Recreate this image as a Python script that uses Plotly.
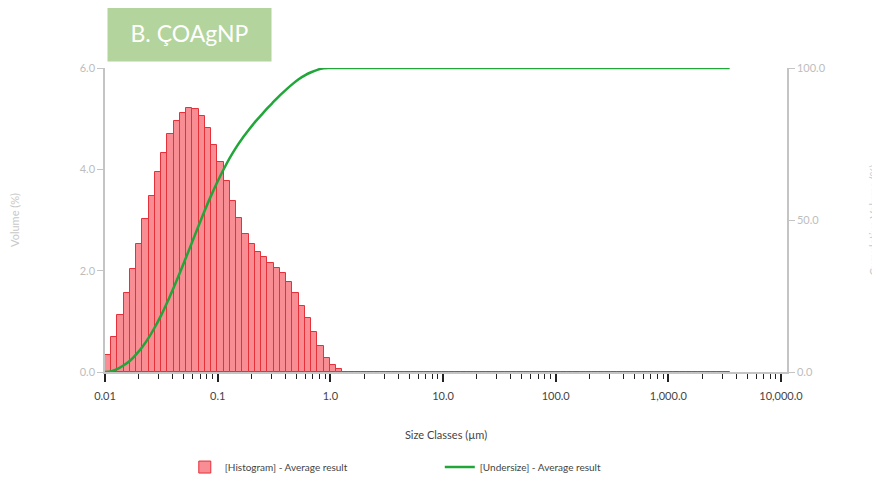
import numpy as np
import plotly.graph_objects as go

# Mastersizer size classes: 100 classes between 0.01 and 3500 um
edges = np.geomspace(0.01, 3500, 101)

# Volume (%) per size class
volume = [0.33, 0.70, 1.12, 1.56, 2.04, 2.53, 3.01, 3.48, 3.95, 4.33,
          4.70, 4.95, 5.12, 5.21, 5.19, 5.05, 4.82, 4.49, 4.15, 3.77,
          3.37, 3.03, 2.73, 2.52, 2.36, 2.26, 2.16, 2.06, 1.95, 1.77,
          1.55, 1.30, 1.06, 0.78, 0.52, 0.28, 0.14, 0.06] + [0.0] * 62

# Cumulative undersize (%) at the class edges
undersize = [0.0, 0.3, 1.0, 2.2, 3.7, 5.8, 8.3, 11.3, 14.8, 18.7,
             23.1, 27.8, 32.7, 37.8, 43.0, 48.2, 53.3, 58.1, 62.6, 66.7,
             70.5, 73.9, 76.9, 79.6, 82.2, 84.5, 86.8, 88.9, 91.0, 92.9,
             94.7, 96.3, 97.6, 98.6, 99.4, 99.9, 100.0]
undersize_x = list(edges[:len(undersize)]) + [edges[-1]]
undersize = undersize + [100.0]

x_ticks = [0.01, 0.1, 1, 10, 100, 1000, 10000]
x_labels = ["0.01", "0.1", "1.0", "10.0", "100.0", "1,000.0", "10,000.0"]
minor_ticks = [k * 10.0 ** p for p in range(-2, 4) for k in range(2, 10)]

FONT = "Lato"
GREY = "#c4c4c4"

fig = go.Figure()
fig.add_trace(go.Bar(
    x=edges[:-1], y=volume, width=np.diff(edges), offset=0,
    name="[Histogram] - Average result",
    marker=dict(color="rgba(246,112,120,0.8)", line=dict(color="#e6303a", width=1)),
))
fig.add_trace(go.Scatter(
    x=undersize_x, y=undersize, yaxis="y2", mode="lines",
    name="[Undersize] - Average result",
    line=dict(color="#21a63a", width=2.5, shape="spline", smoothing=0.8),
))

# the page body adds an 8px offset, margins compensate for it
fig.update_layout(
    width=880, height=486,
    margin=dict(l=97, r=101, t=60, b=115),
    paper_bgcolor="white", plot_bgcolor="white",
    font=dict(family=FONT, size=11, color="#333"),
    bargap=0,
    xaxis=dict(
        type="log", range=[-2.0, 4.053], automargin=False,
        tickvals=x_ticks, ticktext=x_labels,
        ticks="outside", ticklen=8, tickwidth=2, tickcolor="#222",
        minor=dict(tickvals=minor_ticks, ticks="outside", ticklen=5, tickwidth=1, tickcolor="#222"),
        showline=True, linecolor=GREY, linewidth=1.5,
        showgrid=False, zeroline=False, ticklabelstandoff=5,
        tickfont=dict(size=11, color="#444"),
        title=dict(text="Size Classes (µm)", font=dict(size=11, color="#444"), standoff=30),
    ),
    yaxis=dict(
        range=[0, 6.0], tickvals=[0, 2, 4, 6], tickformat=".1f", automargin=False,
        ticks="outside", ticklen=6, tickcolor=GREY,
        showline=True, linecolor=GREY, linewidth=1.5,
        showgrid=False, zeroline=False,
        tickfont=dict(size=11, color="#bdbdbd"),
        title=dict(text="Volume (%)", font=dict(size=11, color="#c8c8c8"), standoff=64),
    ),
    yaxis2=dict(
        overlaying="y", side="right", range=[0, 100], automargin=False,
        tickvals=[0, 50, 100], tickformat=".1f",
        ticks="outside", ticklen=6, tickcolor=GREY,
        showline=True, linecolor=GREY, linewidth=1.5,
        showgrid=False, zeroline=False,
        tickfont=dict(size=11, color="#bdbdbd"),
        title=dict(text="Cumulative Volume (%)", font=dict(size=11, color="#c8c8c8"), standoff=46),
    ),
    legend=dict(
        orientation="h", x=0.117, xanchor="left", y=-0.265, yanchor="top",
        font=dict(size=10, color="#444"), entrywidth=210, entrywidthmode="pixels",
        itemwidth=30,
    ),
    showlegend=True,
)

fig.add_annotation(
    text="B. ÇOAgNP", xref="paper", yref="paper", x=0.003, y=1.0,
    xanchor="left", yanchor="bottom", yshift=6, showarrow=False,
    font=dict(family=FONT, size=23, color="white"),
    bgcolor="#b3d49c", borderpad=13, width=137, height=31,
)

fig.write_html("out.html")
